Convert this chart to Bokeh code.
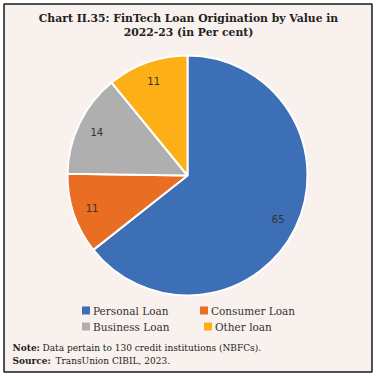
import math
from bokeh.plotting import figure
from bokeh.models import Range1d, ColumnDataSource, Label
from bokeh.core.properties import value
from bokeh.embed import file_html
from bokeh.resources import INLINE

# ---- data ----
categories = ["Personal Loan", "Consumer Loan", "Business Loan", "Other loan"]
shares = [65, 11, 14, 11]
colors = ["#3D6FB6", "#E96D22", "#AFAFAF", "#FCAF17"]
labels = ["65", "11", "14", "11"]

title_lines = ["Chart II.35: FinTech Loan Origination by Value in", "2022-23 (in Per cent)"]
note_text = "Data pertain to 130 credit institutions (NBFCs)."
source_text = "TransUnion CIBIL, 2023."

W = H = 376
def Y(ypix):
    return H - ypix

p = figure(width=W, height=H, output_backend="svg", toolbar_location=None,
           x_range=Range1d(0, W), y_range=Range1d(0, H), min_border=0)
p.axis.visible = False
p.grid.visible = False
p.outline_line_color = None
p.background_fill_color = "white"
p.border_fill_color = "white"

SERIF = "DejaVu Serif"

# panel box
p.quad(left=3.5, right=371.5, bottom=Y(371.5), top=Y(3.5),
       fill_color="#F8F1EE", line_color="#1a1a1a", line_width=1.5)

# title
for i, t in enumerate(title_lines):
    p.text(x=[W / 2], y=[Y(18 + 14 * i)], text=[t], text_font=value(SERIF),
           text_font_style="bold", text_font_size="10.8px", text_align="center",
           text_baseline="middle", text_color="#222222")

# pie
cx, cy, r = 187, Y(175), 120
total = sum(shares)
starts, ends, mids = [], [], []
acc = 0.0
for s in shares:
    a0 = math.pi / 2 - 2 * math.pi * acc / total
    acc += s
    a1 = math.pi / 2 - 2 * math.pi * acc / total
    starts.append(a0)
    ends.append(a1)
    mids.append((a0 + a1) / 2)

src = ColumnDataSource(dict(start=starts, end=ends, color=colors, cat=categories))
p.wedge(x=cx, y=cy, radius=r, start_angle="start", end_angle="end", direction="clock",
        fill_color="color", line_color="white", line_width=2, source=src)

lr = 0.84 * r
p.text(x=[cx + lr * math.cos(m) for m in mids], y=[cy + lr * math.sin(m) for m in mids],
       text=labels, text_font=value("DejaVu Sans"), text_font_size="10px",
       text_align="center", text_baseline="middle", text_color="#333333")

# legend (manual, 2 columns)
leg_x = [85.5, 203.5, 85.5, 207.5]
leg_y = [310, 310, 326, 326]
p.scatter(x=leg_x, y=[Y(v) for v in leg_y], marker="square", size=8,
          fill_color=colors, line_color=None)
for lx, ly, cat in zip(leg_x, leg_y, categories):
    p.add_layout(Label(x=lx + 7, y=Y(ly), text=cat, text_font=SERIF,
                       text_font_size="10.5px", text_align="left",
                       text_baseline="middle", text_color="#333333"))

# notes
NS = "9px"
for xx, yy, txt, st in [(12, 347, "Note:", "bold"), (42, 347, note_text, "normal"),
                        (12, 360, "Source:", "bold"), (55, 360, source_text, "normal")]:
    p.add_layout(Label(x=xx, y=Y(yy), text=txt, text_font=SERIF, text_font_style=st,
                       text_font_size=NS, text_baseline="middle", text_color="#222222"))

open("out.html", "w").write(file_html(p, INLINE))
